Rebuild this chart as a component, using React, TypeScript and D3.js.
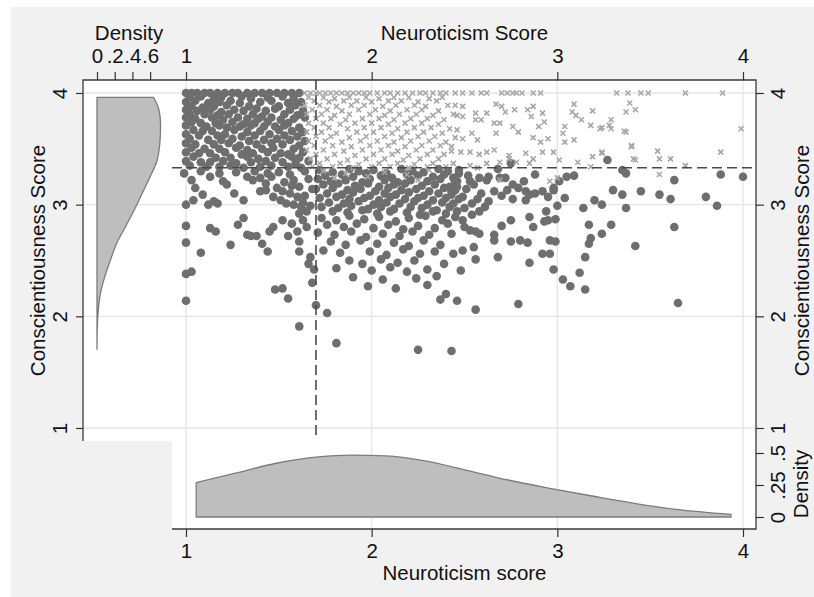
import React, { useEffect, useRef } from 'react'
import * as d3 from 'd3'

const W = 814
const H = 597
const FONT = '"Liberation Sans", Arial, Helvetica, sans-serif'

// axis ticks
const neuroTicks = [1, 2, 3, 4]
const conscTicks = [1, 2, 3, 4]
const topDensityTicks = [0, 0.2, 0.4, 0.6]
const rightDensityTicks = [0, 0.25, 0.5]

// reference lines
const neuroCut = 1.7
const conscCut = 3.33

// kernel density of neuroticism: [score, density]
const neuroDensity: [number, number][] = [
  [1.055, 0.268], [1.26, 0.34], [1.486, 0.42], [1.713, 0.47], [1.895, 0.484],
  [2.076, 0.477], [2.28, 0.44], [2.507, 0.367], [2.734, 0.289], [2.96, 0.224],
  [3.187, 0.164], [3.414, 0.107], [3.64, 0.06], [3.935, 0.021],
]

// kernel density of conscientiousness: [score, density]
const conscDensity: [number, number][] = [
  [3.96, 0.64], [3.85, 0.7], [3.72, 0.718], [3.61, 0.715], [3.4, 0.68],
  [3.25, 0.6], [3.1, 0.51], [3.0, 0.45], [2.8, 0.32], [2.65, 0.22],
  [2.5, 0.15], [2.36, 0.09], [2.21, 0.04], [2.06, 0.015], [1.91, 0.004], [1.7, 0],
]

// [neuroticism, conscientiousness] — filled circles
const darkUpper: [number, number][] = [
  [1.00, 4.00], [1.03, 4.00], [1.06, 4.00], [1.10, 4.00], [1.13, 4.00], [1.17, 4.00], [1.21, 4.00], [1.25, 4.00], [1.28, 4.00],
  [1.33, 4.00], [1.37, 4.00], [1.41, 4.00], [1.45, 4.00], [1.49, 4.00], [1.53, 4.00], [1.57, 4.00], [1.61, 4.00],
  [1.02, 3.96], [1.08, 3.97], [1.15, 3.95], [1.19, 3.96], [1.30, 3.97], [1.35, 3.95], [1.44, 3.96], [1.52, 3.97], [1.58, 3.95],
  [1.00, 3.92], [1.05, 3.93], [1.12, 3.91], [1.18, 3.92], [1.24, 3.93], [1.29, 3.91], [1.40, 3.92], [1.46, 3.93], [1.55, 3.91], [1.62, 3.92],
  [1.03, 3.88], [1.09, 3.87], [1.15, 3.88], [1.22, 3.89], [1.34, 3.88], [1.38, 3.86], [1.50, 3.88], [1.59, 3.89],
  [1.00, 3.85], [1.06, 3.84], [1.13, 3.85], [1.19, 3.83], [1.26, 3.85], [1.31, 3.84], [1.43, 3.84], [1.48, 3.86], [1.56, 3.85], [1.63, 3.84],
  [1.02, 3.81], [1.10, 3.81], [1.17, 3.80], [1.23, 3.81], [1.36, 3.81], [1.41, 3.79], [1.53, 3.81], [1.60, 3.80],
  [1.00, 3.78], [1.05, 3.77], [1.14, 3.78], [1.20, 3.76], [1.28, 3.78], [1.33, 3.77], [1.39, 3.77], [1.46, 3.78], [1.51, 3.76], [1.58, 3.77], [1.64, 3.78],
  [1.03, 3.74], [1.08, 3.73], [1.16, 3.73], [1.25, 3.74], [1.31, 3.72], [1.37, 3.73], [1.44, 3.74], [1.55, 3.73],
  [1.00, 3.71], [1.11, 3.70], [1.18, 3.71], [1.22, 3.69], [1.29, 3.70], [1.35, 3.71], [1.42, 3.70], [1.48, 3.70], [1.53, 3.71], [1.61, 3.69],
  [1.04, 3.67], [1.09, 3.66], [1.14, 3.66], [1.26, 3.67], [1.33, 3.65], [1.40, 3.66], [1.50, 3.67], [1.57, 3.66], [1.63, 3.65],
  [1.00, 3.63], [1.07, 3.62], [1.17, 3.62], [1.21, 3.63], [1.30, 3.61], [1.37, 3.62], [1.45, 3.63], [1.53, 3.62], [1.60, 3.61],
  [1.02, 3.59], [1.12, 3.58], [1.19, 3.58], [1.25, 3.59], [1.34, 3.57], [1.42, 3.58], [1.49, 3.59], [1.56, 3.58], [1.64, 3.57],
  [1.00, 3.55], [1.05, 3.54], [1.15, 3.54], [1.23, 3.55], [1.29, 3.53], [1.38, 3.54], [1.46, 3.55], [1.52, 3.54], [1.61, 3.53],
  [1.03, 3.51], [1.10, 3.50], [1.18, 3.50], [1.27, 3.51], [1.33, 3.49], [1.41, 3.50], [1.47, 3.51], [1.58, 3.50],
  [1.00, 3.47], [1.07, 3.46], [1.13, 3.46], [1.21, 3.47], [1.30, 3.45], [1.36, 3.46], [1.44, 3.47], [1.51, 3.46], [1.55, 3.45], [1.63, 3.47],
  [1.04, 3.43], [1.16, 3.42], [1.24, 3.42], [1.33, 3.43], [1.39, 3.41], [1.48, 3.42], [1.57, 3.43], [1.61, 3.42],
  [1.00, 3.39], [1.08, 3.38], [1.13, 3.38], [1.20, 3.39], [1.27, 3.37], [1.35, 3.38], [1.43, 3.39], [1.52, 3.38], [1.59, 3.37], [1.66, 3.39],
  [1.02, 3.35], [1.11, 3.34], [1.18, 3.34], [1.24, 3.35], [1.31, 3.33], [1.40, 3.34], [1.46, 3.35], [1.55, 3.34], [1.62, 3.33],
]

const darkLeft: [number, number][] = [
  [0.99, 3.28], [1.03, 3.22], [1.05, 3.15], [1.00, 3.00], [1.04, 3.04], [1.00, 2.81], [1.00, 2.66], [1.08, 2.57],
  [1.00, 2.38], [1.03, 2.40], [1.00, 2.14], [1.13, 3.25], [1.12, 3.00], [1.15, 3.03], [1.17, 3.01], [1.13, 2.79],
  [1.16, 2.76], [1.24, 2.64], [1.22, 3.18], [1.26, 3.10], [1.31, 3.04], [1.28, 2.82], [1.31, 2.88], [1.33, 2.73],
  [1.35, 2.72], [1.38, 2.72], [1.41, 2.65], [1.44, 2.58], [1.45, 2.76], [1.47, 2.80], [1.33, 3.25], [1.36, 3.22],
  [1.40, 3.24], [1.43, 3.19], [1.46, 3.25], [1.40, 3.12], [1.43, 3.13], [1.47, 3.07], [1.51, 3.04], [1.54, 3.01],
  [1.52, 2.25], [1.55, 2.16], [1.61, 1.91], [1.58, 3.22], [1.61, 3.16], [1.60, 3.07], [1.62, 2.98], [1.61, 2.92],
  [1.60, 2.76], [1.61, 2.67], [1.61, 2.58], [1.65, 2.80], [1.67, 2.53], [1.66, 2.47], [1.69, 2.42], [1.68, 2.30],
  [1.70, 2.10], [1.76, 2.03], [1.81, 1.76], [1.08, 3.30], [1.18, 3.28], [1.27, 3.29], [1.50, 3.29], [1.56, 3.27],
  [1.64, 3.30], [1.53, 3.20], [1.66, 3.23], [1.49, 3.15], [1.56, 3.10], [1.64, 3.08], [1.68, 3.14], [1.58, 3.00],
  [1.65, 2.94], [1.20, 3.21], [1.09, 3.09], [1.52, 2.86], [1.57, 2.83], [1.55, 2.72], [1.63, 2.86], [1.48, 2.24],
  [1.37, 3.30], [1.44, 3.28], [1.52, 3.12], [1.57, 3.17], [1.63, 3.02], [1.67, 2.99],
]

const darkMid: [number, number][] = [
  [1.72, 3.31], [1.79, 3.29], [1.88, 3.32], [1.93, 3.30], [2.01, 3.31], [2.08, 3.28], [2.16, 3.32], [2.22, 3.30], [2.28, 3.29], [2.36, 3.32], [2.41, 3.30], [2.47, 3.28],
  [1.75, 3.26], [1.84, 3.27], [1.90, 3.25], [1.97, 3.28], [2.05, 3.26], [2.11, 3.24], [2.19, 3.27], [2.25, 3.26], [2.33, 3.25], [2.39, 3.27], [2.44, 3.24],
  [1.71, 3.23], [1.78, 3.21], [1.86, 3.22], [1.95, 3.20], [1.99, 3.23], [2.07, 3.22], [2.14, 3.20], [2.21, 3.22], [2.30, 3.21], [2.37, 3.23], [2.46, 3.21],
  [1.74, 3.18], [1.82, 3.19], [1.91, 3.17], [1.98, 3.19], [2.04, 3.16], [2.12, 3.18], [2.18, 3.19], [2.27, 3.17], [2.34, 3.18], [2.42, 3.16],
  [1.70, 3.14], [1.79, 3.15], [1.87, 3.13], [1.94, 3.14], [2.02, 3.12], [2.09, 3.15], [2.16, 3.13], [2.24, 3.14], [2.31, 3.12], [2.39, 3.15], [2.45, 3.13],
  [1.76, 3.10], [1.84, 3.09], [1.90, 3.11], [1.99, 3.08], [2.07, 3.10], [2.13, 3.09], [2.20, 3.11], [2.28, 3.08], [2.36, 3.10], [2.43, 3.09],
  [1.72, 3.06], [1.81, 3.07], [1.88, 3.05], [1.96, 3.06], [2.04, 3.04], [2.10, 3.07], [2.18, 3.05], [2.25, 3.06], [2.33, 3.04], [2.40, 3.06], [2.47, 3.05],
  [1.77, 3.02], [1.85, 3.01], [1.93, 3.03], [2.01, 3.00], [2.08, 3.02], [2.15, 3.01], [2.23, 3.03], [2.30, 3.00], [2.38, 3.02], [2.44, 3.01],
  [1.73, 2.98], [1.82, 2.97], [1.89, 2.99], [1.98, 2.96], [2.05, 2.98], [2.12, 2.96], [2.21, 2.98], [2.27, 2.97], [2.35, 2.95], [2.42, 2.98],
  [1.79, 2.94], [1.87, 2.93], [1.95, 2.95], [2.03, 2.92], [2.10, 2.94], [2.19, 2.93], [2.26, 2.91], [2.33, 2.94], [2.40, 2.92],
  [1.73, 2.88], [1.81, 2.86], [1.88, 2.90], [1.96, 2.87], [2.04, 2.89], [2.13, 2.85], [2.20, 2.88], [2.29, 2.90], [2.38, 2.86], [2.45, 2.89],
  [1.76, 2.82], [1.85, 2.80], [1.92, 2.83], [2.01, 2.79], [2.09, 2.82], [2.17, 2.78], [2.25, 2.81], [2.34, 2.79], [2.41, 2.83],
  [1.71, 2.75], [1.80, 2.73], [1.89, 2.76], [1.97, 2.71], [2.06, 2.74], [2.15, 2.72], [2.22, 2.76], [2.31, 2.73], [2.43, 2.74],
  [1.78, 2.67], [1.86, 2.64], [1.94, 2.68], [2.03, 2.65], [2.12, 2.66], [2.20, 2.63], [2.28, 2.68], [2.37, 2.64],
  [1.74, 2.59], [1.83, 2.57], [1.99, 2.58], [2.08, 2.55], [2.17, 2.60], [2.26, 2.56], [2.34, 2.58], [2.44, 2.56],
  [1.88, 2.50], [1.95, 2.47], [2.05, 2.51], [2.14, 2.48], [2.23, 2.50], [2.39, 2.47],
  [1.81, 2.43], [2.00, 2.41], [2.10, 2.44], [2.19, 2.40], [2.30, 2.42],
  [1.90, 2.35], [2.06, 2.33], [2.24, 2.34], [2.35, 2.36],
  [1.98, 2.27], [2.13, 2.25], [2.30, 2.28], [2.40, 2.20], [2.37, 2.15],
  [2.25, 1.70], [2.43, 1.69],
]

const darkRight: [number, number][] = [
  [3.27, 3.40], [2.75, 3.37], [3.35, 3.31], [3.37, 3.28], [2.68, 3.32], [2.58, 3.24], [2.63, 3.25], [2.45, 3.21],
  [2.46, 3.16], [2.43, 3.12], [2.69, 3.24], [2.88, 3.27], [2.82, 3.21], [2.98, 3.15], [3.01, 3.21], [3.05, 3.25],
  [3.09, 3.26], [3.63, 3.22], [3.88, 3.27], [4.00, 3.25], [2.49, 3.07], [2.46, 2.94], [2.54, 3.01], [2.54, 2.91],
  [2.58, 2.94], [2.63, 3.03], [2.73, 3.13], [2.79, 3.15], [2.83, 3.12], [2.85, 3.09], [2.88, 3.10], [2.92, 3.12],
  [2.95, 3.07], [2.98, 3.13], [2.76, 3.05], [2.83, 3.04], [3.00, 2.99], [3.04, 3.06], [3.14, 2.97], [3.20, 3.04],
  [3.24, 3.00], [3.30, 3.13], [3.35, 3.09], [3.37, 2.97], [3.45, 3.12], [3.55, 3.09], [3.61, 3.05], [3.80, 3.07],
  [3.86, 2.99], [2.49, 2.86], [2.50, 2.80], [2.53, 2.77], [2.56, 2.76], [2.58, 2.74], [2.66, 2.73], [2.66, 2.68],
  [2.75, 2.86], [2.70, 2.81], [2.75, 2.67], [2.80, 2.68], [2.84, 2.66], [2.85, 2.89], [2.87, 2.80], [2.94, 2.94],
  [2.95, 2.86], [2.93, 2.85], [2.99, 2.87], [2.96, 2.68], [2.99, 2.67], [3.17, 2.82], [3.24, 2.74], [3.29, 2.82],
  [3.63, 2.80], [2.49, 2.59], [2.55, 2.62], [2.56, 2.51], [2.48, 2.41], [2.68, 2.53], [2.85, 2.48], [2.92, 2.56],
  [2.96, 2.56], [2.98, 2.42], [3.03, 2.33], [3.07, 2.27], [3.15, 2.24], [3.12, 2.39], [3.15, 2.53], [3.17, 2.65],
  [3.18, 2.70], [3.42, 2.63], [2.46, 2.14], [2.56, 2.06], [2.79, 2.11], [3.65, 2.12], [2.47, 3.31], [2.52, 3.26],
  [2.55, 3.18], [2.62, 3.22], [2.66, 3.12], [2.70, 3.08], [2.72, 3.24], [2.76, 3.18], [2.57, 3.05], [2.61, 2.98],
  [2.51, 3.14], [2.59, 3.10], [2.53, 3.21], [2.50, 2.97],
]

// [neuroticism, conscientiousness] — light crosses (high N, high C)
const lightDense: [number, number][] = [
  [1.64, 4.00], [1.67, 4.00], [1.70, 4.00], [1.72, 4.00], [1.75, 4.00], [1.78, 4.00], [1.81, 4.00], [1.84, 4.00],
  [1.87, 4.00], [1.90, 4.00], [1.93, 4.00], [1.96, 4.00], [1.99, 4.00], [2.03, 4.00], [2.07, 4.00], [2.10, 4.00],
  [2.14, 4.00], [2.18, 4.00], [2.22, 4.00], [2.26, 4.00], [2.29, 4.00], [2.33, 4.00], [2.37, 4.00], [2.40, 4.00],
  [1.66, 3.96], [1.74, 3.96], [1.80, 3.95], [1.88, 3.96], [1.97, 3.96], [2.04, 3.95], [2.12, 3.96], [2.20, 3.96], [2.31, 3.95], [2.38, 3.96],
  [1.69, 3.93], [1.77, 3.92], [1.85, 3.93], [1.92, 3.93], [2.00, 3.92], [2.09, 3.93], [2.16, 3.93], [2.25, 3.92], [2.35, 3.93],
  [1.64, 3.89], [1.72, 3.89], [1.81, 3.88], [1.89, 3.89], [1.96, 3.89], [2.06, 3.88], [2.13, 3.89], [2.23, 3.89], [2.29, 3.88], [2.41, 3.89],
  [1.68, 3.85], [1.76, 3.85], [1.84, 3.84], [1.93, 3.85], [2.02, 3.85], [2.10, 3.84], [2.19, 3.85], [2.27, 3.85], [2.36, 3.84],
  [1.65, 3.81], [1.73, 3.81], [1.80, 3.80], [1.88, 3.81], [1.99, 3.81], [2.07, 3.80], [2.15, 3.81], [2.24, 3.81], [2.33, 3.80], [2.44, 3.81],
  [1.70, 3.77], [1.78, 3.77], [1.86, 3.76], [1.95, 3.77], [2.04, 3.77], [2.12, 3.76], [2.21, 3.77], [2.30, 3.77], [2.39, 3.76],
  [1.66, 3.73], [1.74, 3.73], [1.83, 3.72], [1.91, 3.73], [2.00, 3.73], [2.09, 3.72], [2.18, 3.73], [2.27, 3.73], [2.36, 3.72],
  [1.69, 3.69], [1.77, 3.69], [1.87, 3.68], [1.96, 3.69], [2.05, 3.69], [2.14, 3.68], [2.23, 3.69], [2.32, 3.69], [2.42, 3.68],
  [1.65, 3.65], [1.73, 3.65], [1.81, 3.64], [1.92, 3.65], [2.01, 3.65], [2.11, 3.64], [2.19, 3.65], [2.28, 3.65], [2.38, 3.64],
  [1.70, 3.61], [1.78, 3.61], [1.88, 3.60], [1.97, 3.61], [2.07, 3.61], [2.16, 3.60], [2.25, 3.61], [2.34, 3.61], [2.45, 3.60],
  [1.66, 3.57], [1.75, 3.57], [1.84, 3.56], [1.94, 3.57], [2.03, 3.57], [2.12, 3.56], [2.21, 3.57], [2.31, 3.57], [2.40, 3.56],
  [1.69, 3.53], [1.79, 3.53], [1.89, 3.52], [1.99, 3.53], [2.09, 3.53], [2.18, 3.52], [2.27, 3.53], [2.37, 3.53],
  [1.65, 3.49], [1.74, 3.49], [1.85, 3.48], [1.95, 3.49], [2.05, 3.49], [2.14, 3.48], [2.24, 3.49], [2.33, 3.49], [2.43, 3.48],
  [1.70, 3.45], [1.80, 3.45], [1.91, 3.44], [2.01, 3.45], [2.11, 3.45], [2.20, 3.44], [2.30, 3.45], [2.39, 3.45],
  [1.67, 3.41], [1.76, 3.41], [1.87, 3.40], [1.97, 3.41], [2.07, 3.41], [2.17, 3.40], [2.26, 3.41], [2.36, 3.41],
  [1.72, 3.37], [1.83, 3.37], [1.93, 3.36], [2.04, 3.37], [2.14, 3.37], [2.23, 3.36], [2.33, 3.37], [2.44, 3.37],
  [1.68, 3.34], [1.79, 3.34], [1.90, 3.33], [2.00, 3.34], [2.10, 3.34], [2.20, 3.33], [2.30, 3.34], [2.40, 3.34],
  [1.74, 3.30], [1.86, 3.28], [1.98, 3.25], [2.07, 3.29], [2.19, 3.27], [2.25, 3.22], [1.80, 3.24], [2.31, 3.31],
]

const lightSparse: [number, number][] = [
  [2.45, 4.00], [2.49, 4.00], [2.54, 4.00], [2.59, 4.00], [2.62, 4.00], [2.70, 4.00], [2.73, 4.00], [2.76, 4.00],
  [2.78, 4.00], [2.81, 4.00], [2.87, 4.00], [2.91, 4.00], [3.32, 4.00], [3.38, 4.00], [3.45, 4.00], [3.49, 4.00],
  [3.69, 4.00], [3.89, 4.00],
  [2.45, 3.89], [2.49, 3.88], [2.46, 3.80], [2.49, 3.79], [2.56, 3.82], [2.62, 3.82], [2.67, 3.90], [2.70, 3.88],
  [2.72, 3.83], [2.77, 3.85], [2.84, 3.85], [2.87, 3.88], [2.86, 3.79], [2.92, 3.82], [2.93, 3.74], [2.56, 3.76],
  [2.59, 3.76], [2.66, 3.73], [2.69, 3.73], [2.76, 3.70], [2.79, 3.65], [2.90, 3.70], [2.46, 3.67], [2.54, 3.64],
  [2.57, 3.58], [2.49, 3.59], [2.67, 3.64], [2.87, 3.60], [2.91, 3.56], [2.95, 3.59], [3.04, 3.70], [3.03, 3.64],
  [3.09, 3.90], [3.08, 3.83], [3.10, 3.80], [3.13, 3.76], [3.19, 3.84], [3.18, 3.71], [3.23, 3.68], [3.28, 3.71],
  [3.29, 3.76], [3.37, 3.65], [3.37, 3.83], [3.39, 3.91], [3.42, 3.85], [3.40, 3.52], [2.43, 3.52], [2.48, 3.47],
  [2.53, 3.47], [2.58, 3.45], [2.62, 3.47], [2.66, 3.49], [2.74, 3.44], [2.83, 3.46], [2.87, 3.41], [2.92, 3.47],
  [2.98, 3.47], [3.01, 3.40], [3.11, 3.38], [3.19, 3.43], [3.24, 3.47], [3.42, 3.40], [3.54, 3.48], [3.55, 3.41],
  [3.61, 3.41], [3.69, 3.35], [3.88, 3.47], [3.99, 3.68], [2.53, 3.35], [2.57, 3.33], [2.62, 3.37], [2.69, 3.38],
  [2.74, 3.41], [2.78, 3.38], [2.85, 3.37], [3.04, 3.56], [3.09, 3.58], [3.55, 3.27], [2.96, 3.21], [3.00, 3.24],
  [2.69, 3.22], [3.18, 3.34], [3.29, 3.68], [3.36, 3.66], [3.40, 3.53], [3.41, 3.41], [3.24, 3.69], [3.24, 3.46],
]

const darkPoints = [...darkUpper, ...darkLeft, ...darkMid, ...darkRight]
const lightPoints = [...lightDense, ...lightSparse]

const densityFormat = (d: number) => (d === 0 ? '0' : String(d).replace(/^0/, ''))

const App = () => {
  const svgRef = useRef<SVGSVGElement>(null)

  useEffect(() => {
    const svg = d3.select(svgRef.current)
    svg.selectAll('*').remove()

    // plot frame (white region has a notch at lower left)
    const left = 83
    const right = 756
    const top = 80
    const bottom = 529
    const notchX = 172
    const notchY = 441

    const x = d3.scaleLinear().domain([1, 4]).range([186, 743])
    const y = d3.scaleLinear().domain([1, 4]).range([428, 93])
    const dTop = d3.scaleLinear().domain([0, 1]).range([97, 185.5])
    const dRight = d3.scaleLinear().domain([0, 0.5]).range([517, 453])

    svg.append('rect').attr('x', 11).attr('y', 7).attr('width', W - 11).attr('height', H - 7).attr('fill', '#f1f1f1')
    svg
      .append('path')
      .attr('d', `M${left},${top}H${right}V${bottom}H${notchX}V${notchY}H${left}Z`)
      .attr('fill', '#ffffff')

    // grid
    const grid = svg.append('g').attr('stroke', '#e6e6e6').attr('stroke-width', 1.4)
    neuroTicks.forEach((t) => {
      grid.append('line').attr('x1', x(t)).attr('x2', x(t)).attr('y1', top).attr('y2', bottom)
    })
    conscTicks.forEach((t) => {
      grid.append('line').attr('x1', left).attr('x2', right).attr('y1', y(t)).attr('y2', y(t))
    })

    // marginal densities
    const conscArea = d3
      .area<[number, number]>()
      .y((d) => y(d[0]))
      .x0(dTop(0))
      .x1((d) => dTop(d[1]))
      .curve(d3.curveMonotoneY)
    svg
      .append('path')
      .attr('d', conscArea(conscDensity))
      .attr('fill', '#bebebe')
      .attr('stroke', '#7c7c7c')
      .attr('stroke-width', 1.3)

    const neuroArea = d3
      .area<[number, number]>()
      .x((d) => x(d[0]))
      .y0(dRight(0))
      .y1((d) => dRight(d[1]))
      .curve(d3.curveMonotoneX)
    svg
      .append('path')
      .attr('d', neuroArea(neuroDensity))
      .attr('fill', '#bebebe')
      .attr('stroke', '#7c7c7c')
      .attr('stroke-width', 1.3)

    // scatter
    svg
      .append('g')
      .selectAll('circle')
      .data(darkPoints)
      .enter()
      .append('circle')
      .attr('cx', (d) => x(d[0]))
      .attr('cy', (d) => y(d[1]))
      .attr('r', 4.3)
      .attr('fill', '#6e6e6e')

    const s = 2.5
    svg
      .append('g')
      .selectAll('path')
      .data(lightPoints)
      .enter()
      .append('path')
      .attr('transform', (d) => `translate(${x(d[0])},${y(d[1])})`)
      .attr('d', `M${-s},${-s}L${s},${s}M${-s},${s}L${s},${-s}`)
      .attr('stroke', '#a6a6a6')
      .attr('stroke-width', 1.6)
      .attr('fill', 'none')

    // cut-off lines
    svg
      .append('line')
      .attr('x1', x(neuroCut)).attr('x2', x(neuroCut))
      .attr('y1', top).attr('y2', 438)
      .attr('stroke', '#4a4a4a').attr('stroke-width', 1.6).attr('stroke-dasharray', '10,5')
    svg
      .append('line')
      .attr('x1', notchX).attr('x2', right)
      .attr('y1', y(conscCut)).attr('y2', y(conscCut))
      .attr('stroke', '#4a4a4a').attr('stroke-width', 1.6).attr('stroke-dasharray', '10,5')

    // axis lines
    const frame = svg.append('g').attr('stroke', '#3a3a3a').attr('stroke-width', 1.3).attr('fill', 'none')
    frame.append('path').attr('d', `M${left},${notchY}V${top}H${right}V${bottom}H${notchX}`)

    const styleAxis = (g: any) => {
      g.select('.domain').remove()
      g.selectAll('.tick line').attr('stroke', '#333').attr('stroke-width', 1.2)
      g.selectAll('.tick text')
        .attr('fill', '#111')
        .style('font-size', '20.5px')
        .style('font-family', FONT)
    }

    const fmtInt = d3.format('d')

    // top axes
    const topNeuro = svg
      .append('g')
      .attr('transform', `translate(0,${top})`)
      .call(d3.axisTop(x).tickValues(neuroTicks).tickSize(8).tickPadding(9).tickFormat((d: any) => fmtInt(d)))
    styleAxis(topNeuro)

    const topDens = svg
      .append('g')
      .attr('transform', `translate(0,${top})`)
      .call(d3.axisTop(dTop).tickValues(topDensityTicks).tickSize(8).tickPadding(9).tickFormat((d: any) => densityFormat(d)))
    styleAxis(topDens)

    // left axis
    const leftAxis = svg
      .append('g')
      .attr('transform', `translate(${left},0)`)
      .call(d3.axisLeft(y).tickValues(conscTicks).tickSize(7).tickFormat((d: any) => fmtInt(d)))
    styleAxis(leftAxis)
    leftAxis
      .selectAll('.tick text')
      .attr('transform', 'rotate(-90)')
      .attr('x', 0)
      .attr('y', -16)
      .attr('dy', null)
      .attr('text-anchor', 'middle')

    // right axes
    const rightAxis = svg
      .append('g')
      .attr('transform', `translate(${right},0)`)
      .call(d3.axisRight(y).tickValues(conscTicks).tickSize(8).tickFormat((d: any) => fmtInt(d)))
    styleAxis(rightAxis)
    const rightDens = svg
      .append('g')
      .attr('transform', `translate(${right},0)`)
      .call(d3.axisRight(dRight).tickValues(rightDensityTicks).tickSize(8).tickFormat((d: any) => densityFormat(d)))
    styleAxis(rightDens)
    ;[rightAxis, rightDens].forEach((g) =>
      g
        .selectAll('.tick text')
        .attr('transform', 'rotate(-90)')
        .attr('x', 0)
        .attr('y', 29)
        .attr('dy', null)
        .attr('text-anchor', 'middle'),
    )

    // bottom axis
    const bottomAxis = svg
      .append('g')
      .attr('transform', `translate(0,${bottom})`)
      .call(d3.axisBottom(x).tickValues(neuroTicks).tickSize(8).tickPadding(6).tickFormat((d: any) => fmtInt(d)))
    styleAxis(bottomAxis)

    // titles
    const title = (txt: string, tx: number, ty: number, rot = 0) =>
      svg
        .append('text')
        .attr('transform', `translate(${tx},${ty}) rotate(${rot})`)
        .attr('text-anchor', 'middle')
        .attr('fill', '#111')
        .style('font-size', '20.5px')
        .style('font-family', FONT)
        .text(txt)

    title('Neuroticism Score', (x(1) + x(4)) / 2, 40)
    title('Density', 129, 40)
    title('Conscientiousness Score', 45, (y(1) + y(4)) / 2, -90)
    title('Conscientiousness Score', 809, (y(1) + y(4)) / 2, -90)
    title('Density', 808, 484, -90)
    title('Neuroticism score', (x(1) + x(4)) / 2, 580)
  }, [])

  return (
    <div style={{ position: 'absolute', left: 0, top: 0 }}>
      <svg ref={svgRef} width={W} height={H} style={{ display: 'block' }}></svg>
    </div>
  )
}

export default App
